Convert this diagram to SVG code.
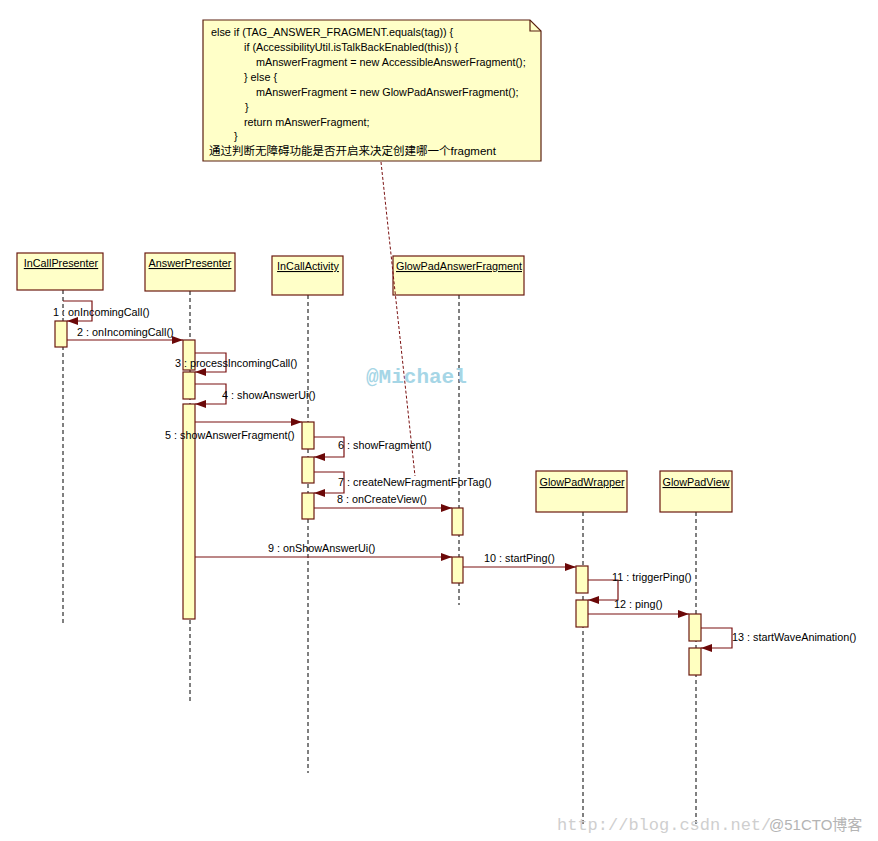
<svg xmlns="http://www.w3.org/2000/svg" width="878" height="841" viewBox="0 0 878 841">
<style>
text{font-family:"Liberation Sans","DejaVu Sans",sans-serif;font-size:10.8px;fill:#000}
.head{fill:#ffffc8;stroke:#6b1a10;stroke-width:1.2}
.life{stroke:#000;stroke-width:1;stroke-dasharray:4,3;fill:none}
.act{fill:#ffffc0;stroke:#6b1a10;stroke-width:1.2}
.msg{stroke:#7a1010;stroke-width:1.2;fill:none;marker-end:url(#ah)}
.note{fill:#ffffc8;stroke:#5a2010;stroke-width:1.2}
.cjk{font-family:"Liberation Sans","Noto Sans CJK SC",sans-serif}
.ht{text-decoration:underline;text-anchor:middle}
</style>
<defs>
<marker id="ah" markerWidth="11" markerHeight="8" refX="11" refY="4" orient="auto" markerUnits="userSpaceOnUse">
<path d="M0,0 L11,4 L0,8 z" fill="#6b0808"/>
</marker>
</defs>
<rect width="878" height="841" fill="#fff"/>

<g id="note">
<path class="note" d="M203,20 H530 L541,31 V161 H203 Z"/>
<path d="M530,20 V31 H541" fill="none" stroke="#5a2010" stroke-width="1.2"/>
<text x="211" y="36">else if (TAG_ANSWER_FRAGMENT.equals(tag)) {</text>
<text x="244" y="51">if (AccessibilityUtil.isTalkBackEnabled(this)) {</text>
<text x="256" y="66">mAnswerFragment = new AccessibleAnswerFragment();</text>
<text x="244" y="81">} else {</text>
<text x="256" y="96">mAnswerFragment = new GlowPadAnswerFragment();</text>
<text x="245" y="111">}</text>
<text x="244" y="126">return mAnswerFragment;</text>
<text x="234" y="140">}</text>
<text x="209" y="155" class="cjk" style="font-size:11.5px">通过判断无障碍功能是否开启来决定创建哪一个fragment</text>
</g>

<g id="InCallPresenter">
<line class="life" x1="63" y1="290" x2="63" y2="625"/>
<rect class="head" x="17" y="253" width="86" height="37"/>
<text x="61" y="267" class="ht">InCallPresenter</text>
<rect class="act" x="55" y="321" width="12" height="26"/>
</g>

<g id="AnswerPresenter">
<line class="life" x1="190" y1="291" x2="190" y2="703"/>
<rect class="head" x="145" y="253" width="90" height="38"/>
<text x="190" y="267" class="ht">AnswerPresenter</text>
<rect class="act" x="183" y="340" width="12" height="30"/>
<rect class="act" x="183" y="372" width="12" height="27"/>
<rect class="act" x="183" y="404" width="12" height="215"/>
</g>

<g id="InCallActivity">
<line class="life" x1="308" y1="295" x2="308" y2="773"/>
<rect class="head" x="272" y="256" width="71" height="39"/>
<text x="308" y="270" class="ht">InCallActivity</text>
<rect class="act" x="302" y="422" width="12" height="27"/>
<rect class="act" x="302" y="457" width="12" height="26"/>
<rect class="act" x="302" y="493" width="12" height="26"/>
</g>

<g id="GlowPadAnswerFragment">
<line class="life" x1="459" y1="295" x2="459" y2="605"/>
<rect class="head" x="393" y="256" width="131" height="39"/>
<text x="459" y="270" class="ht">GlowPadAnswerFragment</text>
<rect class="act" x="452" y="508" width="11" height="27"/>
<rect class="act" x="452" y="557" width="11" height="26"/>
</g>

<g id="GlowPadWrapper">
<line class="life" x1="583" y1="512" x2="583" y2="825"/>
<rect class="head" x="536" y="471" width="91" height="41"/>
<text x="582" y="486" class="ht">GlowPadWrapper</text>
<rect class="act" x="576" y="566" width="12" height="27"/>
<rect class="act" x="576" y="600" width="12" height="27"/>
</g>

<g id="GlowPadView">
<line class="life" x1="696" y1="512" x2="696" y2="825"/>
<rect class="head" x="660" y="471" width="72" height="41"/>
<text x="696" y="486" class="ht">GlowPadView</text>
<rect class="act" x="689" y="614" width="12" height="27"/>
<rect class="act" x="689" y="648" width="12" height="27"/>
</g>

<g id="connectors">
<line x1="381" y1="162" x2="415" y2="476" stroke="#7a1010" stroke-width="1" stroke-dasharray="3,2"/>
<path class="msg" d="M63,301 H92 V321 H67"/>
<path class="msg" d="M67,340 H183"/>
<path class="msg" d="M195,353 H226 V372 H195"/>
<path class="msg" d="M195,384 H226 V404 H195"/>
<path class="msg" d="M195,422 H302"/>
<path class="msg" d="M314,437 H344 V457 H314"/>
<path class="msg" d="M314,472 H344 V493 H314"/>
<path class="msg" d="M314,508 H452"/>
<path class="msg" d="M195,557 H452"/>
<path class="msg" d="M463,567 H576"/>
<path class="msg" d="M588,580 H618 V600 H588"/>
<path class="msg" d="M588,614 H689"/>
<path class="msg" d="M701,628 H732 V648 H701"/>
</g>

<g id="labels">
<text x="53" y="316">1 : onIncomingCall()</text>
<text x="77" y="336">2 : onIncomingCall()</text>
<text x="175" y="367">3 : processIncomingCall()</text>
<text x="222" y="399">4 : showAnswerUi()</text>
<text x="165" y="439">5 : showAnswerFragment()</text>
<text x="338" y="449">6 : showFragment()</text>
<text x="338" y="486">7 : createNewFragmentForTag()</text>
<text x="337" y="503">8 : onCreateView()</text>
<text x="268" y="552">9 : onShowAnswerUi()</text>
<text x="484" y="562">10 : startPing()</text>
<text x="612" y="581">11 : triggerPing()</text>
<text x="614" y="608">12 : ping()</text>
<text x="732" y="641">13 : startWaveAnimation()</text>
</g>

<g id="watermarks">
<text x="366" y="383" style="font-family:'Liberation Mono',monospace;font-weight:bold;font-size:21px;fill:#a6d6e6">@Michael</text>
<text x="557" y="830" style="font-family:'Liberation Mono',monospace;font-size:17px;fill:#cfcfcf">http://blog.csdn.net/</text>
<text x="769" y="830" class="cjk" style="font-size:15px;fill:#b4b4b4">@51CTO博客</text>
</g>
</svg>
